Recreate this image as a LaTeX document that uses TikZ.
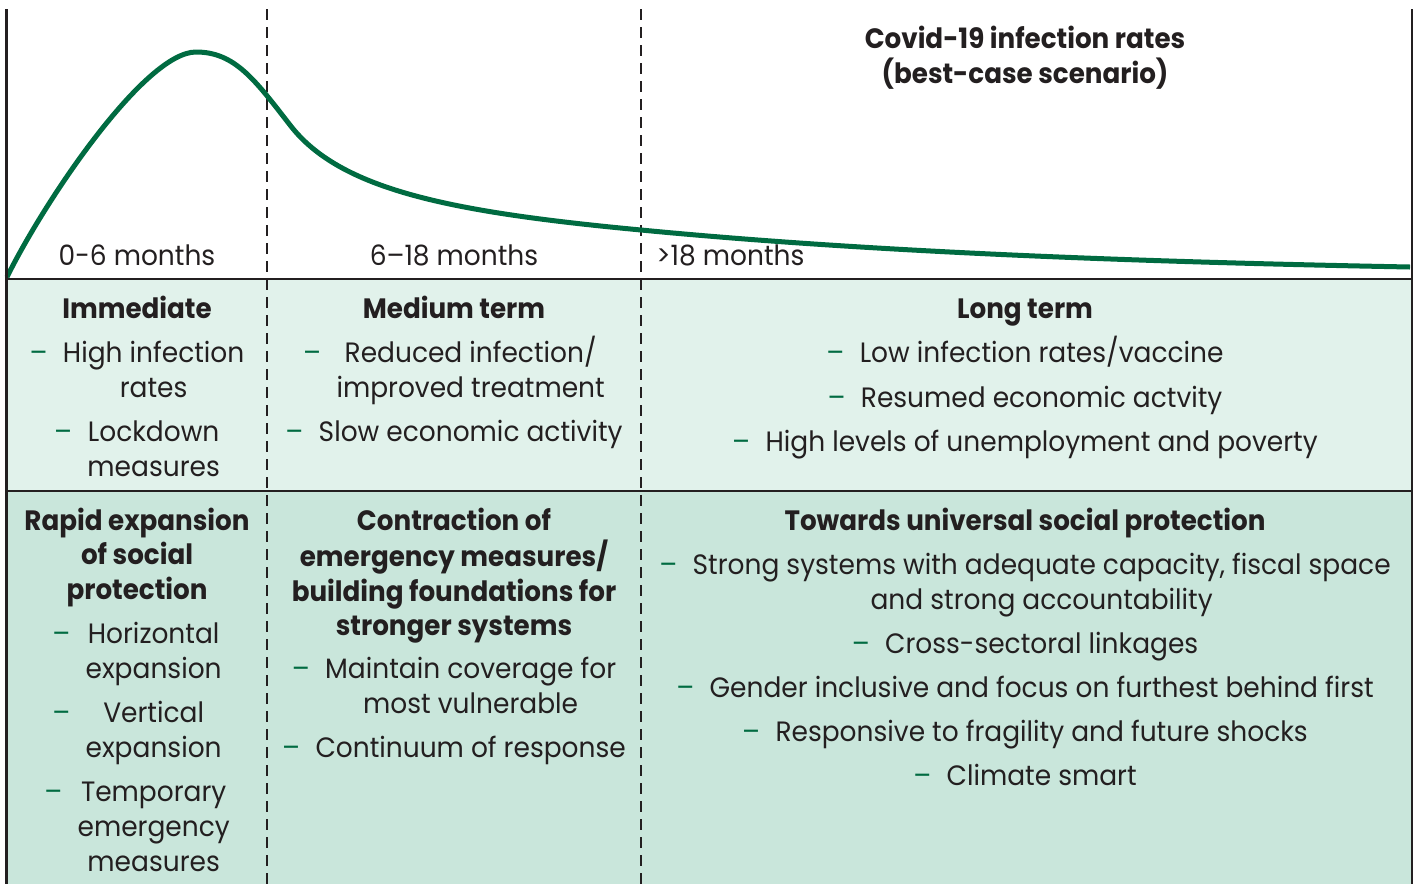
\documentclass[tikz,border=0pt]{standalone}
\usepackage{fontspec}
\setmainfont{Poppins}[FakeStretch=0.945, BoldFeatures={FakeStretch=0.935}]

\definecolor{curvegreen}{HTML}{006B41}
\definecolor{bandlight}{HTML}{E1F2EB}
\definecolor{banddark}{HTML}{C9E6DB}
\definecolor{inkgray}{HTML}{231F20}

% centred lines, first baseline on the node's baseline
\newcommand{\stack}[1]{\begin{tabular}[t]{@{}c@{}}#1\end{tabular}}
% green dash in front of a centred block of lines
\newcommand{\dashitem}[1]{\textcolor{curvegreen}{--}\hspace{0.55em}\stack{#1}}

\tikzset{
    frame/.style={draw=inkgray, line width=1.3pt},
    divider/.style={draw=inkgray, line width=1.4pt, dash pattern=on 5.5pt off 3.5pt},
    txt/.style={anchor=base, inner sep=0pt, text=inkgray, font=\fontsize{14}{17.5}\selectfont},
    head/.style={txt, font=\fontsize{14}{17.25}\selectfont\bfseries},
}

\begin{document}
\begin{tikzpicture}[x=0.5pt, y=-0.5pt]
    \useasboundingbox (0,0) rectangle (1416,884);

    \fill[bandlight] (6.5,279) rectangle (1412,491);
    \fill[banddark] (6.5,491) rectangle (1412,884);

    \draw[divider] (267,9) -- (267,884);
    \draw[divider] (641,9) -- (641,884);

    % infection curve
    \draw[curvegreen, line width=2.5pt]
        (7,277) .. controls (45,200) and (145,52) .. (196,52)
                .. controls (235,52) and (255,80) .. (290,125)
                .. controls (340,190) and (450,212) .. (641,230)
                .. controls (900,255) and (1200,263) .. (1410,267);

    \draw[frame] (6.5,9) -- (6.5,884);
    \draw[frame] (1412,9) -- (1412,884);
    \draw[frame] (6.5,279) -- (1412,279);
    \draw[frame] (6.5,491) -- (1412,491);

    \node[head, font=\fontsize{14}{16.5}\selectfont\bfseries] (title) at (1025,48)
        {\stack{Covid-19 infection rates\\(best-case scenario)}};

    \node[txt] (period1) at (137,265) {0-6 months};
    \node[txt] (period2) at (454,265) {6--18 months};
    \node[txt, anchor=base west] (period3) at (656,265) {>18 months};

    % rates band
    \node[head] (immediate) at (137,318) {Immediate};
    \node[txt] (immediate1) at (137,362) {\dashitem{High infection\\rates}};
    \node[txt] (immediate2) at (137,441) {\dashitem{Lockdown\\measures}};

    \node[head] (medium) at (454,318) {Medium term};
    \node[txt] (medium1) at (454,362) {\dashitem{Reduced infection/\\improved treatment}};
    \node[txt] (medium2) at (454,441) {\dashitem{Slow economic activity}};

    \node[head] (long) at (1025,318) {Long term};
    \node[txt] (long1) at (1025,362) {\dashitem{Low infection rates/vaccine}};
    \node[txt] (long2) at (1025,407) {\dashitem{Resumed economic actvity}};
    \node[txt] (long3) at (1025,451) {\dashitem{High levels of unemployment and poverty}};

    % protection band
    \node[head] (rapid) at (137,530) {\stack{Rapid expansion\\of social\\protection}};
    \node[txt] (rapid1) at (137,643) {\dashitem{Horizontal\\expansion}};
    \node[txt] (rapid2) at (137,722) {\dashitem{Vertical\\expansion}};
    \node[txt] (rapid3) at (137,801) {\dashitem{Temporary\\emergency\\measures}};

    \node[head] (contraction) at (454,530)
        {\stack{Contraction of\\emergency measures/\\building foundations for\\stronger systems}};
    \node[txt] (contraction1) at (454,678) {\dashitem{Maintain coverage for\\most vulnerable}};
    \node[txt] (contraction2) at (454,757) {\dashitem{Continuum of response}};

    \node[head] (universal) at (1025,530) {Towards universal social protection};
    \node[txt] (universal1) at (1025,574)
        {\dashitem{Strong systems with adequate capacity, fiscal space\\and strong accountability}};
    \node[txt] (universal2) at (1025,653) {\dashitem{Cross-sectoral linkages}};
    \node[txt] (universal3) at (1025,697) {\dashitem{Gender inclusive and focus on furthest behind first}};
    \node[txt] (universal4) at (1025,741) {\dashitem{Responsive to fragility and future shocks}};
    \node[txt] (universal5) at (1025,785) {\dashitem{Climate smart}};
\end{tikzpicture}
\end{document}
